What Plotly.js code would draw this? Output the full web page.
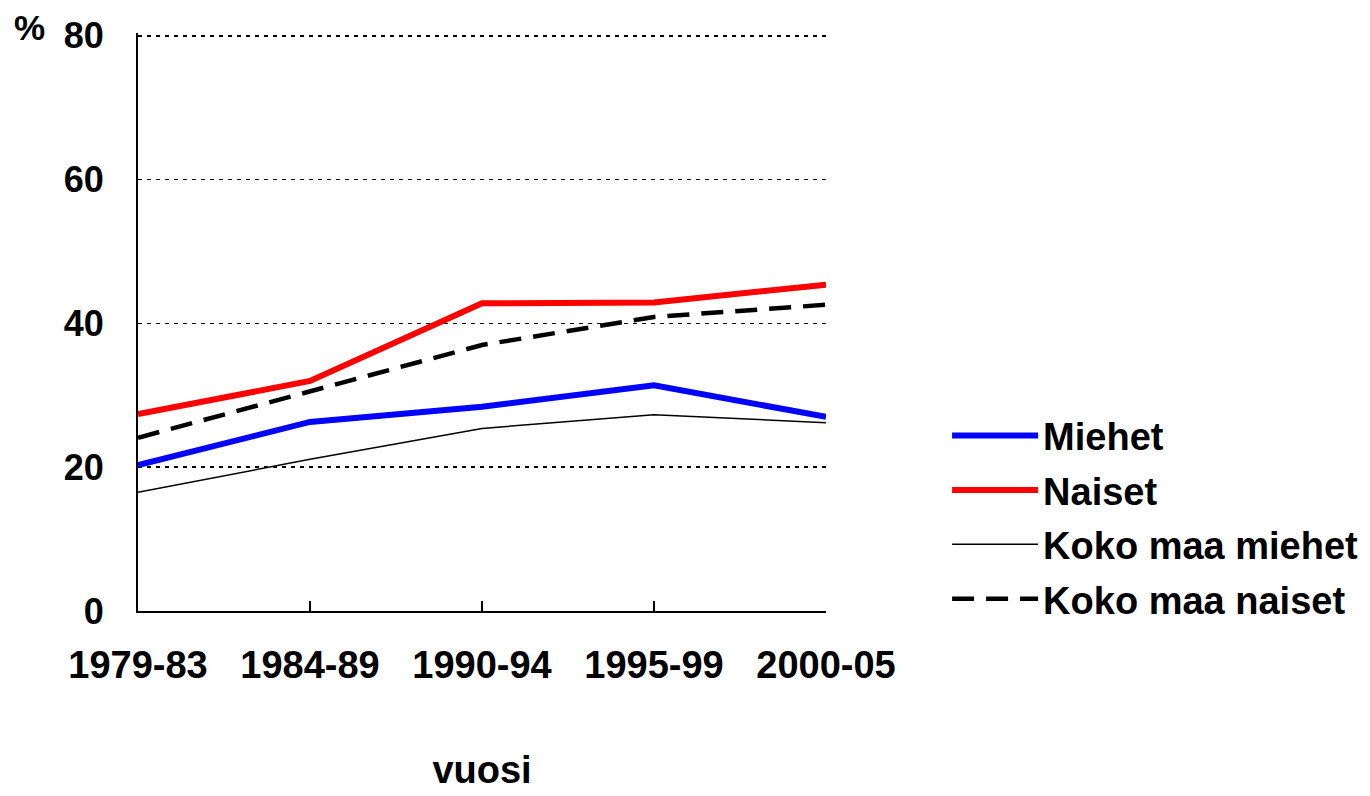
<!DOCTYPE html>
<html>
<head>
<meta charset="utf-8">
<script src="https://cdn.plot.ly/plotly-3.0.1.min.js"></script>
<style>html,body{margin:0;padding:0;background:#fff;}#chart{width:1370px;height:796px;}</style>
</head>
<body>
<div id="chart"></div>
<script>
const periods = ["1979-83", "1984-89", "1990-94", "1995-99", "2000-05"];
const miehet = [20.3, 26.3, 28.4, 31.4, 27.0];
const naiset = [27.4, 32.0, 42.8, 42.9, 45.4];
const kokoMaaMiehet = [16.5, 21.1, 25.4, 27.3, 26.2];
const kokoMaaNaiset = [24.1, 30.5, 37.0, 40.9, 42.6];
const yTicks = [0, 20, 40, 60, 80];

const FONT = "Liberation Sans, Arial, Helvetica, sans-serif";

const traces = [
  {x: periods, y: miehet, name: "Miehet", mode: "lines", legendgroup: "a",
   line: {color: "#0000ff", width: 6}},
  {x: periods, y: naiset, name: "Naiset", mode: "lines", legendgroup: "b",
   line: {color: "#ff0000", width: 6}},
  {x: periods, y: kokoMaaMiehet, name: "Koko maa miehet", mode: "lines", legendgroup: "c",
   line: {color: "#000000", width: 1.5}},
  {x: periods, y: kokoMaaNaiset, name: "Koko maa naiset", mode: "lines", legendgroup: "d",
   line: {color: "#000000", width: 4.5, dash: "22px,12px"}}
];

const layout = {
  width: 1370, height: 796,
  paper_bgcolor: "#ffffff", plot_bgcolor: "#ffffff",
  margin: {l: 138, r: 544, t: 33, b: 185, autoexpand: false},
  font: {family: FONT, color: "#000000", size: 36, weight: "bold"},
  showlegend: true,
  legend: {
    x: 1.176, xanchor: "left", y: 0.162, yanchor: "middle",
    font: {family: FONT, size: 38, color: "#000", weight: "bold"},
    itemwidth: 86,
    tracegroupgap: 2, bgcolor: "rgba(0,0,0,0)"
  },
  xaxis: {
    type: "category", range: [0, 4],
    showline: true, linecolor: "#000", linewidth: 2,
    ticks: "inside", ticklen: 10, tickcolor: "#000", tickwidth: 1.5,
    showgrid: false, zeroline: false,
    ticklabelstandoff: 19,
    tickfont: {family: FONT, size: 38, color: "#000", weight: "bold"},
    title: {text: "vuosi", standoff: 72, font: {family: FONT, size: 38, color: "#000", weight: "bold"}}
  },
  yaxis: {
    range: [0, 80.4], tickvals: yTicks, ticktext: yTicks.map(String),
    showline: true, linecolor: "#000", linewidth: 2,
    ticks: "", showgrid: true, gridcolor: "#000", gridwidth: 1.5, griddash: "4px,5px",
    zeroline: false, ticklabelstandoff: 25,
    tickfont: {family: FONT, size: 36, color: "#000", weight: "bold"}
  },
  annotations: [
    {text: "%", xref: "paper", yref: "paper", x: -0.157, y: 1.01,
     xanchor: "center", yanchor: "middle", showarrow: false,
     font: {family: FONT, size: 35, color: "#000", weight: "bold"}}
  ]
};

Plotly.newPlot("chart", traces, layout, {displayModeBar: false, staticPlot: true});
</script>
</body>
</html>
